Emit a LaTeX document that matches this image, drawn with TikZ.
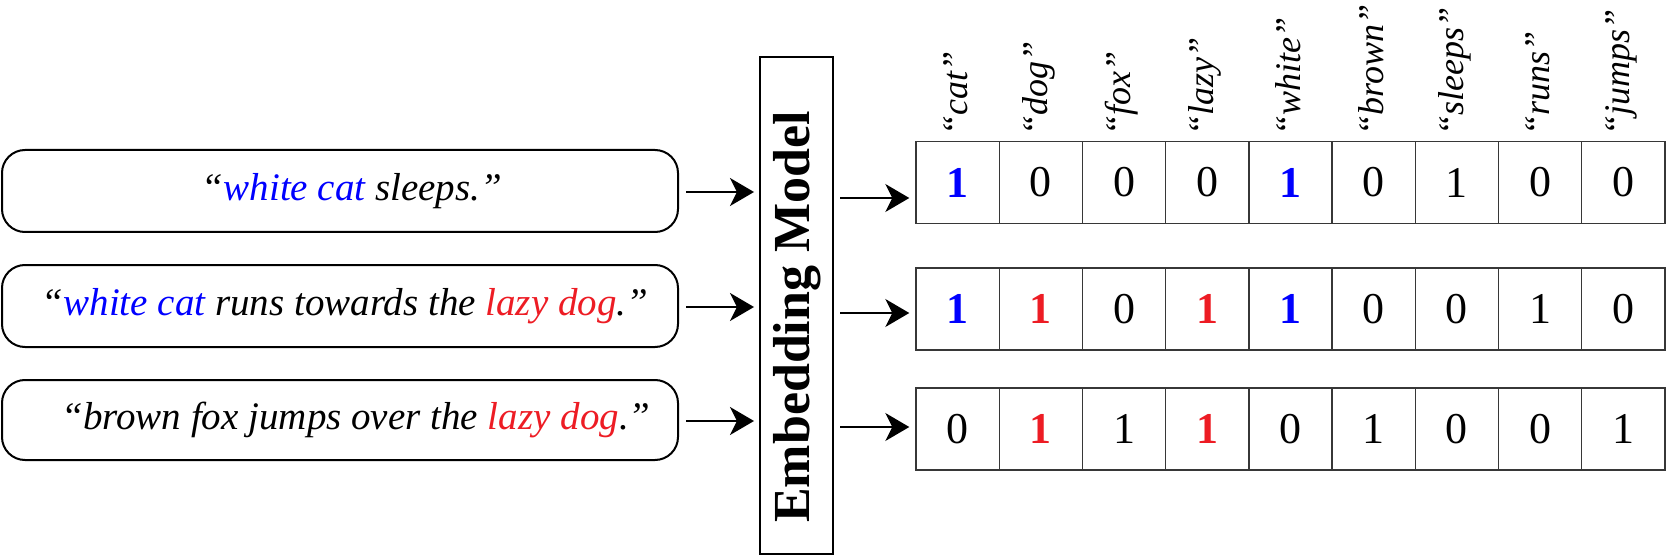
\documentclass[tikz,border=0pt]{standalone}
\usepackage{fontspec}
\setmainfont{Liberation Serif}
\usetikzlibrary{arrows.meta,calc}
\definecolor{myblue}{RGB}{0,0,255}
\definecolor{myred}{RGB}{237,28,36}
\definecolor{cellgray}{RGB}{55,55,55}
\newcommand{\bl}[1]{\textcolor{myblue}{#1}}
\newcommand{\rd}[1]{\textcolor{myred}{#1}}
\newcommand{\B}{\textbf{\textcolor{myblue}{1}}}
\newcommand{\R}{\textbf{\textcolor{myred}{1}}}
\begin{document}
\begin{tikzpicture}[x=0.5pt,y=-0.5pt,
  sentbox/.style={draw,line width=1pt,rounded corners=11.5pt,minimum width=338pt,inner sep=0pt},
  senttext/.style={font=\fontsize{19.5}{22}\selectfont\itshape,inner sep=0pt},
  cell/.style={draw=cellgray,line width=0.7pt,minimum width=41.6pt,minimum height=41pt,inner sep=0pt,font=\fontsize{22}{26}\selectfont},
  lab/.style={rotate=90,anchor=west,inner sep=0pt,font=\fontsize{18}{20}\selectfont\itshape},
  arr/.style={line width=0.9pt,-{Stealth[length=12pt,width=14pt,inset=3.5pt]}}
]
\useasboundingbox (0,0) rectangle (1667,556);

% sentence boxes
\node[sentbox,minimum height=41pt] (s1) at (340,191) {};
\node[sentbox,minimum height=41pt] (s2) at (340,306) {};
\node[sentbox,minimum height=40pt] (s3) at (340,420) {};
\node[senttext] (t1) at (352,191) {“\bl{white cat} sleeps.”};
\node[senttext] (t2) at (345,306) {“\bl{white cat} runs towards the \rd{lazy dog}.”};
\node[senttext] (t3) at (356,420) {“brown fox jumps over the \rd{lazy dog}.”};

% embedding model
\node[draw,line width=1pt,minimum width=36.5pt,minimum height=248.5pt,inner sep=0pt] (emb) at (796.5,305.5) {};
\node[rotate=90,inner sep=0pt,font=\fontsize{26}{30}\selectfont\bfseries] (embt) at (797,317) {Embedding Model};

% arrows into model
\draw[arr,shorten >=2.5pt] ([xshift=3.5pt,yshift=-0.5pt]s1.east) -- ([yshift=-0.5pt]emb.west |- s1.east);
\draw[arr,shorten >=2.5pt] ([xshift=3.5pt,yshift=-0.5pt]s2.east) -- ([yshift=-0.5pt]emb.west |- s2.east);
\draw[arr,shorten >=2.5pt] ([xshift=3.5pt,yshift=-0.5pt]s3.east) -- ([yshift=-0.5pt]emb.west |- s3.east);

% cells
\foreach \v [count=\i from 0] in {\B,0,0,0,\B,0,1,0,0} {
  \node[cell] (r1c\i) at ({957.6+83.2*\i},182.5) {\v};
}
\foreach \v [count=\i from 0] in {\B,\R,0,\R,\B,0,0,1,0} {
  \node[cell] (r2c\i) at ({957.6+83.2*\i},309) {\v};
}
\foreach \v [count=\i from 0] in {0,\R,1,\R,0,1,0,0,1} {
  \node[cell] (r3c\i) at ({957.6+83.2*\i},429) {\v};
}

% labels
\foreach \w [count=\i from 0] in {cat,dog,fox,lazy,white,brown,sleeps,runs,jumps} {
  \node[lab] (l\i) at ({955.6+83.2*\i},136) {“\w”};
}

% arrows out of model
\coordinate (o1) at (840,198);
\coordinate (o2) at (840,313);
\coordinate (o3) at (840,427);
\draw[arr,shorten >=3pt] (o1) -- (o1 -| r1c0.west);
\draw[arr,shorten >=3pt] (o2) -- (o2 -| r2c0.west);
\draw[arr,shorten >=3pt] (o3) -- (o3 -| r3c0.west);
\end{tikzpicture}
\end{document}
